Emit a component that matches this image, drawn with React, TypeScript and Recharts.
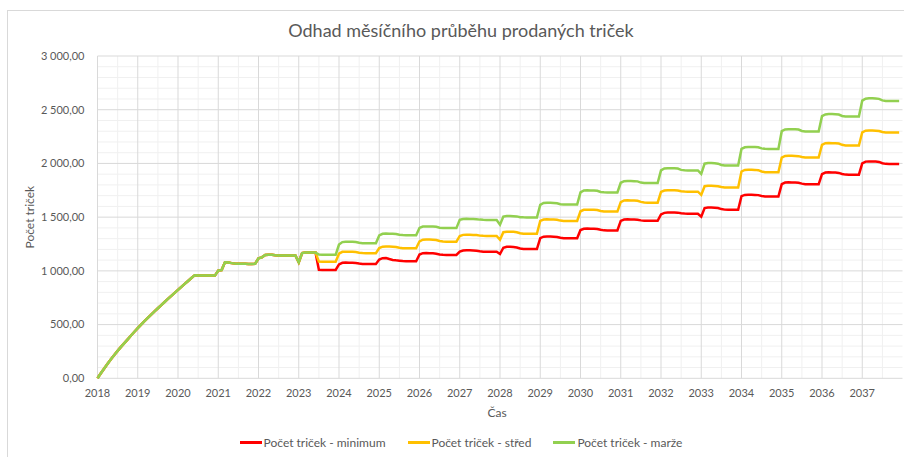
import React from 'react';
import { LineChart, Line, XAxis, YAxis, CartesianGrid, Label } from 'recharts';

const FONT = 'Lato, "Open Sans", sans-serif';
const TEXT = '#595959';

const title = 'Odhad měsíčního průběhu prodaných triček';
const seriesNames = ['Počet triček - minimum', 'Počet triček - střed', 'Počet triček - marže'];
const seriesColors = ['#FF0000', '#FFC000', '#92D050'];

const startYear = 2018;
const yearTickMonths = [0, 12, 24, 36, 48, 60, 72, 84, 96, 108, 120, 132, 144, 156, 168, 180, 192, 204, 216, 228];
const halfYearMonths = [6, 18, 30, 42, 54, 66, 78, 90, 102, 114, 126, 138, 150, 162, 174, 186, 198, 210, 222, 234];
const yMajor = [0, 500, 1000, 1500, 2000, 2500, 3000];
const yMinor = [100, 200, 300, 400, 600, 700, 800, 900, 1100, 1200, 1300, 1400, 1600, 1700, 1800, 1900, 2100, 2200, 2300, 2400, 2600, 2700, 2800, 2900];

// Jan 2018 – Jun 2023: all three series identical
const sharedStart = [
  0, 47, 92, 135, 177, 217, 255, 292, 328, 363, 398, 433,
  467, 500, 532, 563, 593, 623, 652, 681, 710, 739, 767, 795,
  823, 851, 879, 906, 933, 960, 958, 956, 956, 956, 956, 956,
  1003, 1008, 1080, 1078, 1072, 1068, 1067, 1066, 1066, 1065, 1065, 1066,
  1117, 1126, 1148, 1150, 1149, 1145, 1144, 1143, 1143, 1143, 1143, 1143,
  1080, 1165, 1170, 1171, 1170, 1170,
];

// Jul 2023 – Dec 2037
const minimumTail = [
  1010, 1008, 1008, 1008, 1008, 1008,
  1060, 1075, 1077, 1076, 1075, 1073, 1068, 1065, 1065, 1065, 1065, 1064,
  1105, 1118, 1120, 1110, 1102, 1098, 1095, 1092, 1090, 1090, 1090, 1090,
  1152, 1165, 1167, 1165, 1163, 1160, 1152, 1149, 1148, 1148, 1148, 1148,
  1180, 1190, 1192, 1191, 1190, 1188, 1182, 1179, 1178, 1178, 1178, 1178,
  1157, 1215, 1225, 1224, 1222, 1218, 1208, 1204, 1203, 1203, 1203, 1203,
  1305, 1318, 1320, 1319, 1318, 1316, 1308, 1304, 1303, 1303, 1303, 1303,
  1380, 1392, 1394, 1393, 1392, 1390, 1382, 1377, 1376, 1376, 1376, 1376,
  1465, 1478, 1480, 1479, 1478, 1476, 1470, 1467, 1466, 1466, 1466, 1466,
  1525, 1540, 1543, 1544, 1543, 1542, 1536, 1533, 1532, 1532, 1532, 1532,
  1505, 1585, 1590, 1590, 1588, 1585, 1575, 1570, 1568, 1568, 1568, 1568,
  1695, 1707, 1709, 1708, 1707, 1705, 1697, 1693, 1692, 1692, 1692, 1692,
  1808, 1822, 1824, 1823, 1822, 1820, 1812, 1807, 1806, 1806, 1806, 1806,
  1900, 1915, 1917, 1916, 1915, 1912, 1902, 1896, 1895, 1895, 1895, 1895,
  2000, 2017, 2019, 2018, 2017, 2014, 2002, 1996, 1995, 1995, 1995, 1995,
];

const stredTail = [
  1086, 1085, 1085, 1085, 1085, 1085,
  1160, 1177, 1179, 1178, 1177, 1175, 1169, 1166, 1165, 1165, 1165, 1165,
  1212, 1225, 1227, 1226, 1225, 1222, 1215, 1211, 1210, 1210, 1210, 1210,
  1275, 1290, 1292, 1291, 1290, 1287, 1278, 1273, 1272, 1272, 1272, 1272,
  1325, 1335, 1337, 1336, 1335, 1333, 1328, 1326, 1325, 1325, 1325, 1325,
  1290, 1360, 1365, 1365, 1363, 1360, 1350, 1346, 1345, 1345, 1345, 1345,
  1465, 1478, 1480, 1479, 1478, 1476, 1468, 1465, 1464, 1464, 1464, 1464,
  1555, 1568, 1570, 1569, 1568, 1566, 1557, 1553, 1552, 1552, 1552, 1552,
  1640, 1655, 1657, 1656, 1655, 1652, 1642, 1636, 1635, 1635, 1635, 1635,
  1735, 1748, 1751, 1751, 1750, 1748, 1741, 1738, 1737, 1737, 1737, 1737,
  1707, 1788, 1792, 1792, 1790, 1788, 1780, 1777, 1776, 1776, 1776, 1776,
  1925, 1940, 1942, 1941, 1940, 1937, 1925, 1919, 1918, 1918, 1918, 1918,
  2055, 2070, 2072, 2071, 2070, 2068, 2060, 2056, 2055, 2055, 2055, 2055,
  2172, 2188, 2190, 2189, 2188, 2185, 2173, 2168, 2167, 2167, 2167, 2167,
  2290, 2305, 2307, 2306, 2305, 2302, 2292, 2289, 2288, 2288, 2288, 2288,
];

const marzeTail = [
  1152, 1150, 1149, 1149, 1149, 1149,
  1245, 1268, 1272, 1271, 1270, 1268, 1261, 1258, 1257, 1257, 1257, 1257,
  1330, 1345, 1347, 1346, 1345, 1343, 1336, 1333, 1332, 1332, 1332, 1332,
  1400, 1412, 1414, 1413, 1412, 1410, 1402, 1399, 1398, 1398, 1398, 1398,
  1475, 1482, 1484, 1483, 1482, 1481, 1477, 1475, 1474, 1474, 1474, 1474,
  1430, 1505, 1510, 1510, 1509, 1507, 1500, 1498, 1497, 1497, 1497, 1497,
  1615, 1632, 1634, 1633, 1632, 1630, 1621, 1618, 1617, 1617, 1617, 1617,
  1730, 1748, 1750, 1749, 1748, 1745, 1734, 1731, 1730, 1730, 1730, 1730,
  1820, 1835, 1837, 1836, 1835, 1833, 1822, 1819, 1818, 1818, 1818, 1818,
  1935, 1953, 1956, 1956, 1955, 1952, 1940, 1936, 1935, 1935, 1935, 1935,
  1902, 1998, 2003, 2003, 2001, 1998, 1986, 1981, 1980, 1980, 1980, 1980,
  2135, 2150, 2153, 2153, 2152, 2150, 2140, 2136, 2135, 2135, 2135, 2135,
  2300, 2316, 2319, 2319, 2318, 2315, 2302, 2298, 2297, 2297, 2297, 2297,
  2440, 2456, 2459, 2459, 2458, 2455, 2442, 2438, 2437, 2437, 2437, 2437,
  2585, 2603, 2606, 2606, 2605, 2601, 2587, 2581, 2580, 2580, 2580, 2580,
];

const minimum = [...sharedStart, ...minimumTail];
const stred = [...sharedStart, ...stredTail];
const marze = [...sharedStart, ...marzeTail];

const data = minimum.map((v, i) => ({ m: i, min: v, mid: stred[i], max: marze[i] }));

const fmtY = (v: number) => {
  const [i, d] = v.toFixed(2).split('.');
  return i.replace(/\B(?=(\d{3})+(?!\d))/g, ' ') + ',' + d;
};

export default function App() {
  return (
    <div style={{ position: 'absolute', left: 0, top: 0, width: 904, height: 457, overflow: 'hidden', background: '#fff' }}>
      <div style={{ position: 'absolute', left: 7, top: 10, width: 920, height: 470, border: '1px solid #d9d9d9', boxSizing: 'border-box' }} />
      <div style={{ position: 'absolute', left: 0, top: 19, width: 922, textAlign: 'center', fontFamily: FONT, fontSize: 18, color: TEXT }}>
        {title}
      </div>
      <div style={{ position: 'absolute', left: 0, top: 0 }}>
        <LineChart width={904} height={457} data={data} margin={{ top: 56, right: 1.5, bottom: 48.7, left: 0 }}>
          <CartesianGrid stroke="#f0f0f0" horizontalValues={yMinor} verticalValues={halfYearMonths} />
          <CartesianGrid stroke="#d9d9d9" horizontalValues={yMajor} verticalValues={yearTickMonths} />
          <XAxis
            dataKey="m"
            type="number"
            domain={[0, 240]}
            ticks={yearTickMonths}
            tickFormatter={(m: number) => String(startYear + m / 12)}
            axisLine={false}
            tickLine={false}
            tickSize={0}
            tickMargin={11}
            height={30}
            interval={0}
            tick={{ fill: TEXT, fontFamily: FONT, fontSize: 11 }}
          >
            <Label
              content={(p: any) => {
                const vb = p.viewBox || {};
                return (
                  <text x={vb.x + vb.width / 2 - 3} y={412} textAnchor="middle" dominantBaseline="central" fill={TEXT} fontFamily={FONT} fontSize={12}>
                    Čas
                  </text>
                );
              }}
            />
          </XAxis>
          <YAxis
            type="number"
            domain={[0, 3000]}
            ticks={yMajor}
            tickFormatter={fmtY}
            axisLine={false}
            tickLine={false}
            tickSize={0}
            tickMargin={13}
            width={97.5}
            interval={0}
            tick={{ fill: TEXT, fontFamily: FONT, fontSize: 11 }}
          >
            <Label
              content={(p: any) => {
                const vb = p.viewBox || {};
                const cy = vb.y + vb.height / 2;
                return (
                  <text x={30} y={cy} transform={`rotate(-90 30 ${cy})`} textAnchor="middle" dominantBaseline="central" fill={TEXT} fontFamily={FONT} fontSize={12}>
                    Počet triček
                  </text>
                );
              }}
            />
          </YAxis>
          <Line type="linear" dataKey="min" name={seriesNames[0]} stroke={seriesColors[0]} strokeWidth={2.5} dot={false} isAnimationActive={false} />
          <Line type="linear" dataKey="mid" name={seriesNames[1]} stroke={seriesColors[1]} strokeWidth={2.5} dot={false} isAnimationActive={false} />
          <Line type="linear" dataKey="max" name={seriesNames[2]} stroke={seriesColors[2]} strokeWidth={2.5} dot={false} isAnimationActive={false} />
        </LineChart>
      </div>
      <div style={{ position: 'absolute', left: 0, top: 435, width: 922, display: 'flex', justifyContent: 'center', fontFamily: FONT, fontSize: 12, color: TEXT }}>
        {seriesNames.map((n, idx) => (
          <div key={n} style={{ display: 'flex', alignItems: 'center', marginRight: idx < seriesNames.length - 1 ? 22 : 0 }}>
            <span style={{ display: 'inline-block', width: 22, height: 3, background: seriesColors[idx], marginRight: 2 }} />
            <span>{n}</span>
          </div>
        ))}
      </div>
    </div>
  );
}
